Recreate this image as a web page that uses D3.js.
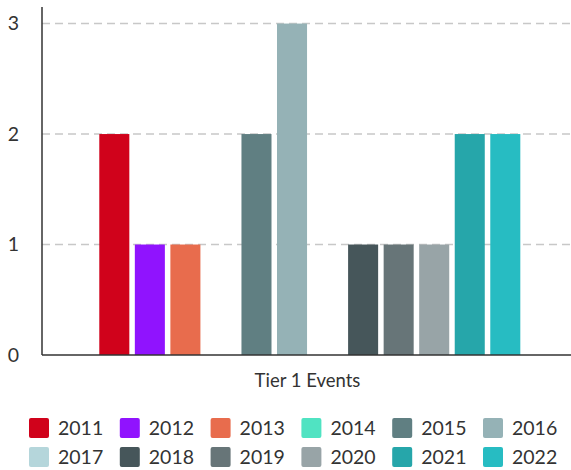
<!DOCTYPE html>
<html>
<head>
<meta charset="utf-8">
<script src="https://cdn.jsdelivr.net/npm/d3@7"></script>
<style>
  body { margin: 0; background: #fff; }
  svg { display: block; font-family: Lato, "Open Sans", sans-serif; }
</style>
</head>
<body>
<div id="chart"></div>
<script>
// 数据
const categories = ["Tier 1 Events"];
const years = ["2011", "2012", "2013", "2014", "2015", "2016", "2017", "2018", "2019", "2020", "2021", "2022"];
const counts = [2, 1, 1, 0, 2, 3, 0, 1, 1, 1, 2, 2];
const yTicks = [0, 1, 2, 3];
const colors = ["#d0021b", "#9013fe", "#e86c4d", "#50e3c2", "#607f82", "#95b2b6",
                "#b5d6db", "#46565a", "#677578", "#98a4a7", "#26a6aa", "#27bcc2"];

const width = 571, height = 470;
const svg = d3.select("#chart").append("svg")
    .attr("width", width)
    .attr("height", height);

const x0 = d3.scaleBand().domain(categories).range([48.3, 571.3]).paddingInner(0.1016).paddingOuter(0.1016);
const x1 = d3.scaleBand().domain(years).range([0, x0.bandwidth()]).paddingInner(0.155).paddingOuter(0.0775);
const y = d3.scaleLinear().domain([0, 3.15]).range([355, 7]);
const color = d3.scaleOrdinal().domain(years).range(colors);

// 网格线
svg.append("g").selectAll("line")
    .data(yTicks.filter(d => d > 0))
    .join("line")
    .attr("x1", 42).attr("x2", 571)
    .attr("y1", d => y(d)).attr("y2", d => y(d))
    .attr("stroke", "#c8c8c8")
    .attr("stroke-width", 1.5)
    .attr("stroke-dasharray", "8,5");

// 柱子
const rows = years.map((yr, i) => ({ year: yr, value: counts[i] }));
categories.forEach(cat => {
    svg.append("g")
        .attr("transform", "translate(" + x0(cat) + ",0)")
        .selectAll("rect")
        .data(rows)
        .join("rect")
        .attr("x", d => x1(d.year))
        .attr("width", x1.bandwidth())
        .attr("y", d => y(d.value))
        .attr("height", d => y(0) - y(d.value))
        .attr("fill", d => color(d.year));
});

// 坐标轴
const yAxis = svg.append("g")
    .attr("transform", "translate(42,0)")
    .call(d3.axisLeft(y).tickValues(yTicks).tickFormat(d3.format("d")).tickSize(0).tickPadding(23));
yAxis.select(".domain").attr("stroke", "#333").attr("stroke-width", 1.5).attr("d", "M0," + y.range()[0] + "V" + y.range()[1]);
yAxis.selectAll("text").attr("font-size", 19.5).attr("fill", "#333").attr("font-family", "Lato");

svg.append("line")
    .attr("x1", 42).attr("x2", 571)
    .attr("y1", y(0)).attr("y2", y(0))
    .attr("stroke", "#333").attr("stroke-width", 1.5);

svg.append("text")
    .attr("x", (42 + 571) / 2 + 1)
    .attr("y", 387)
    .attr("text-anchor", "middle")
    .attr("font-size", 18.5)
    .attr("fill", "#333")
    .text(categories[0]);

// 图例
const legend = svg.append("g").selectAll("g")
    .data(years)
    .join("g")
    .attr("transform", (d, i) => "translate(" + (29 + (i % 6) * 90.8) + "," + (418 + Math.floor(i / 6) * 29) + ")");
legend.append("rect")
    .attr("width", 20).attr("height", 20)
    .attr("rx", 2)
    .attr("fill", d => color(d));
legend.append("text")
    .attr("x", 29)
    .attr("y", 17)
    .attr("font-size", 19.5)
    .attr("fill", "#333")
    .text(d => d);
</script>
</body>
</html>
